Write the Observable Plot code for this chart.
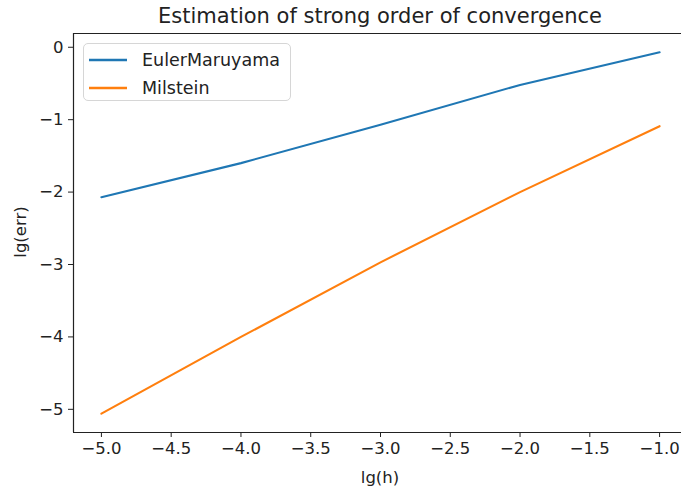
<!DOCTYPE html>
<html>
<head>
<meta charset="utf-8">
<script src="https://cdn.jsdelivr.net/npm/d3@7"></script>
<script src="https://cdn.jsdelivr.net/npm/@observablehq/plot@0.6"></script>
<style>
  html, body { margin: 0; padding: 0; background: #fff; }
  #wrap { position: relative; width: 681px; height: 493px; overflow: hidden; font-family: "DejaVu Sans", sans-serif; }
  #title { position: absolute; left: 0; width: 760px; top: 4px; text-align: center; font-size: 21px; color: #222; white-space: nowrap; }
  #legend { position: absolute; left: 83px; top: 43px; width: 208px; height: 58px; border: 1px solid #d6d6d6; border-radius: 5px; background: rgba(255,255,255,0.85); box-sizing: border-box; }
  .item { position: absolute; left: 0; height: 24px; display: flex; align-items: center; font-size: 17.5px; color: #222; white-space: nowrap; }
  .item svg { margin-left: 4px; margin-right: 14px; }
</style>
</head>
<body>
<div id="wrap">
  <div id="chart"></div>
  <div id="title"></div>
  <div id="legend"></div>
</div>
<script>
const xValues = [-5, -4, -3, -2, -1];
const eulerValues = [-2.07, -1.6, -1.07, -0.52, -0.07];
const milsteinValues = [-5.06, -4.0, -2.97, -2.0, -1.09];
const seriesNames = ["EulerMaruyama", "Milstein"];
const seriesColors = ["#1f77b4", "#ff7f0e"];
const xTicks = [-5.0, -4.5, -4.0, -3.5, -3.0, -2.5, -2.0, -1.5, -1.0];
const yTicks = [0, -1, -2, -3, -4, -5];
const xDomain = [-5.2, -0.8];
const yDomain = [-5.32, 0.19];
const titleText = "Estimation of strong order of convergence";
const xLabel = "lg(h)";
const yLabel = "lg(err)";

const euler = xValues.map((x, i) => ({x, y: eulerValues[i], s: seriesNames[0]}));
const milstein = xValues.map((x, i) => ({x, y: milsteinValues[i], s: seriesNames[1]}));

const chart = Plot.plot({
  width: 681,
  height: 493,
  marginLeft: 73,
  marginTop: 33,
  marginBottom: 61,
  marginRight: 0,
  style: {fontFamily: "DejaVu Sans, sans-serif", background: "white", color: "#222"},
  x: {domain: xDomain, range: [73, 687]},
  y: {domain: yDomain, range: [432, 33]},
  marks: [
    Plot.axisX({ticks: xTicks, tickFormat: d3.format(".1f"), tickSize: 5, tickPadding: 5, fontSize: 16.5, label: null, stroke: "#222"}),
    Plot.axisY({ticks: yTicks, tickFormat: d3.format("d"), tickSize: 5, tickPadding: 5, fontSize: 16.5, label: null, stroke: "#222"}),
    Plot.line(euler, {x: "x", y: "y", stroke: seriesColors[0], strokeWidth: 2.1}),
    Plot.line(milstein, {x: "x", y: "y", stroke: seriesColors[1], strokeWidth: 2.1}),
    Plot.ruleX([xDomain[0]], {stroke: "#222", strokeWidth: 1.2}),
    Plot.ruleY(yDomain, {stroke: "#222", strokeWidth: 1.2})
  ]
});
document.getElementById("chart").appendChild(chart);

const svg = d3.select(chart);
svg.append("text").attr("x", 380).attr("y", 483).attr("text-anchor", "middle")
  .attr("font-size", 16.5).attr("fill", "#222").text(xLabel);
svg.append("text").attr("transform", "translate(26,232) rotate(-90)").attr("text-anchor", "middle")
  .attr("font-size", 16.5).attr("fill", "#222").text(yLabel);

document.getElementById("title").textContent = titleText;

const legend = document.getElementById("legend");
seriesNames.forEach((name, i) => {
  const item = document.createElement("div");
  item.className = "item";
  item.style.top = (4 + i * 28) + "px";
  item.innerHTML = `<svg width="40" height="6"><line x1="1" x2="39" y1="3" y2="3" stroke="${seriesColors[i]}" stroke-width="2.4"/></svg><span></span>`;
  item.querySelector("span").textContent = name;
  legend.appendChild(item);
});
</script>
</body>
</html>
